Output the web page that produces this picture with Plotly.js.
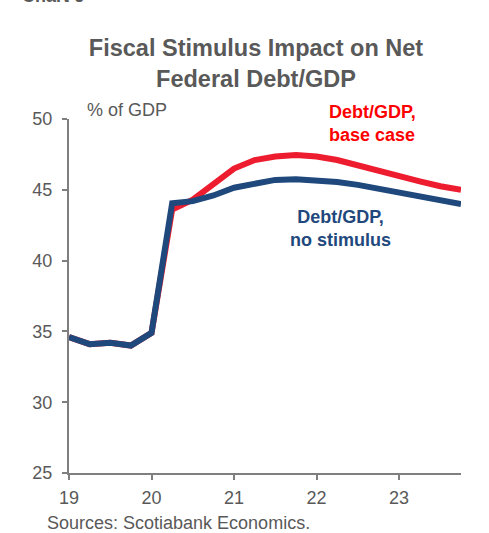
<!DOCTYPE html>
<html>
<head>
<meta charset="utf-8">
<script src="https://cdn.plot.ly/plotly-3.0.1.min.js"></script>
<style>html,body{margin:0;padding:0;background:#fff;}#chart{width:489px;height:533px;}</style>
</head>
<body>
<div id="chart"></div>
<script>
const quarters = [19, 19.25, 19.5, 19.75, 20, 20.25, 20.5, 20.75, 21, 21.25, 21.5, 21.75, 22, 22.25, 22.5, 22.75, 23, 23.25, 23.5, 23.75];
const baseCase = [34.6, 34.1, 34.2, 34.0, 34.9, 43.6, 44.3, 45.4, 46.5, 47.1, 47.35, 47.45, 47.35, 47.1, 46.7, 46.35, 45.95, 45.6, 45.25, 45.0];
const noStimulus = [34.6, 34.1, 34.2, 34.0, 34.9, 44.05, 44.2, 44.6, 45.15, 45.45, 45.7, 45.75, 45.7, 45.55, 45.35, 45.1, 44.8, 44.5, 44.25, 44.0];
const xTicks = [19, 20, 21, 22, 23];
const xTickText = ["19", "20", "21", "22", "23"];

const grey = "#595959";
const font = "Liberation Sans, Arial, sans-serif";

const traces = [
  {x: quarters, y: baseCase, type: "scatter", mode: "lines", name: "Debt/GDP, base case",
   line: {color: "#ED1C2E", width: 6}, cliponaxis: false, hoverinfo: "skip"},
  {x: quarters, y: noStimulus, type: "scatter", mode: "lines", name: "Debt/GDP, no stimulus",
   line: {color: "#1F487C", width: 6}, cliponaxis: false, hoverinfo: "skip"}
];

const layout = {
  width: 489, height: 533,
  margin: {l: 69, r: 28, t: 119, b: 60, pad: 0},
  paper_bgcolor: "#fff", plot_bgcolor: "#fff",
  showlegend: false,
  font: {family: font, size: 18, color: grey},
  title: {
    text: "<b>Fiscal Stimulus Impact on Net<br>Federal Debt/GDP</b>",
    font: {family: font, size: 23.5, color: grey},
    xref: "container", yref: "container",
    x: 256/489, xanchor: "center",
    y: 1 - 56/533, yanchor: "top"
  },
  xaxis: {
    range: [19, 23.75], tickvals: xTicks, ticktext: xTickText,
    ticks: "outside", ticklen: 5, tickwidth: 2, tickcolor: "#7f7f7f",
    showline: true, linecolor: "#7f7f7f", linewidth: 2,
    showgrid: false, zeroline: false, fixedrange: true,
    ticklabelstandoff: 2,
    tickfont: {family: font, size: 18, color: grey}
  },
  yaxis: {
    range: [25, 50], dtick: 5, tick0: 25,
    ticks: "outside", ticklen: 5, tickwidth: 2, tickcolor: "#7f7f7f",
    showline: true, linecolor: "#7f7f7f", linewidth: 2,
    showgrid: false, zeroline: false, fixedrange: true,
    ticklabelstandoff: 6,
    tickfont: {family: font, size: 18, color: grey}
  },
  annotations: [
    {text: "% of GDP", xref: "paper", yref: "paper", x: 16/392, y: (473-110.5)/354, xanchor: "left", yanchor: "middle",
     showarrow: false, font: {family: font, size: 18, color: grey}},
    {text: "<b>Debt/GDP,<br>base case</b>", xref: "paper", yref: "paper", x: (327-69)/392, y: (473-123)/354, xanchor: "left", yanchor: "middle", align: "left",
     showarrow: false, font: {family: font, size: 18, color: "#FF0000"}},
    {text: "<b>Debt/GDP,<br>no stimulus</b>", xref: "paper", yref: "paper", x: (340-69)/392, y: (473-228)/354, xanchor: "center", yanchor: "middle", align: "center",
     showarrow: false, font: {family: font, size: 18, color: "#1F487C"}},
    {text: "Sources: Scotiabank Economics.", xref: "paper", yref: "paper", x: (45-69)/392, y: (473-523)/354, xanchor: "left", yanchor: "middle",
     showarrow: false, font: {family: font, size: 18, color: grey}},
    {text: "<b>Chart 6</b>", xref: "paper", yref: "paper", x: (20-69)/392, y: (473+4)/354, xanchor: "left", yanchor: "middle",
     showarrow: false, font: {family: font, size: 18, color: grey}}
  ]
};

Plotly.newPlot("chart", traces, layout, {displayModeBar: false, staticPlot: true});
</script>
</body>
</html>
